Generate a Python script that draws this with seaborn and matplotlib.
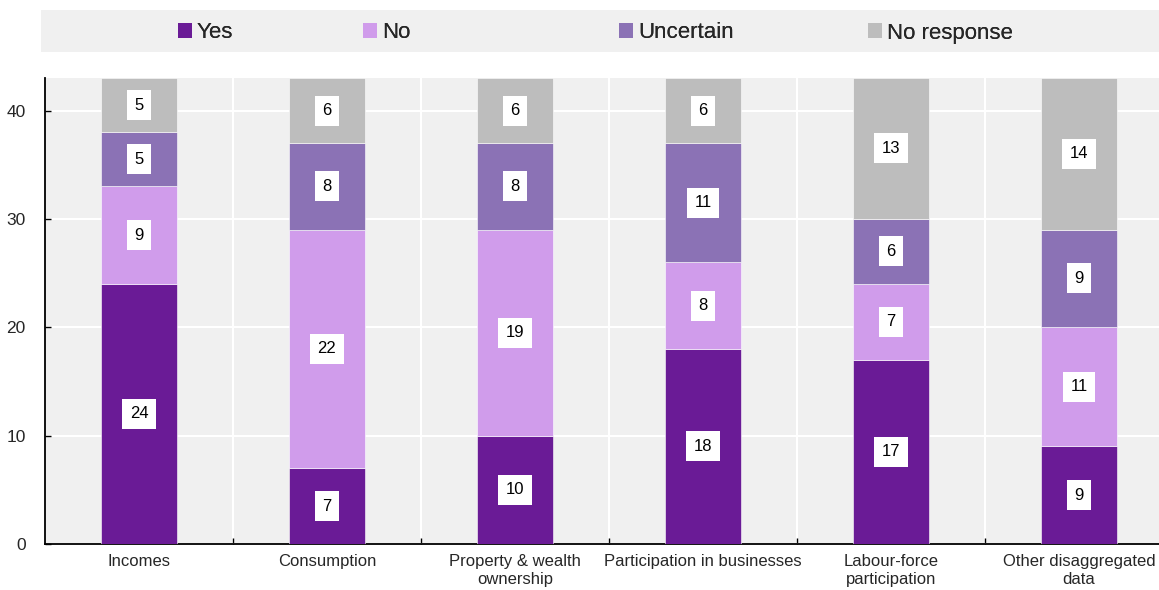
import numpy as np
import pandas as pd
import matplotlib
matplotlib.use("Agg")
import matplotlib.pyplot as plt
import seaborn as sns
from matplotlib.patches import Rectangle, Patch

categories = ["Incomes", "Consumption", "Property & wealth\nownership",
              "Participation in businesses", "Labour-force\nparticipation",
              "Other disaggregated\ndata"]
series_names = ["Yes", "No", "Uncertain", "No response"]
yes = [24, 7, 10, 18, 17, 9]
no = [9, 22, 19, 8, 7, 11]
uncertain = [5, 8, 8, 11, 6, 9]
no_response = [5, 6, 6, 6, 13, 14]
colors = ["#6A1B96", "#D09CEB", "#8B72B5", "#BDBDBD"]
legend_x = [178, 363, 619, 868]  # left edge of each legend entry, px

sns.set_theme(style="white")
plt.rcParams["font.family"] = ["Liberation Sans", "DejaVu Sans"]

fig = plt.figure(figsize=(11.59, 5.9), dpi=100)
ax = fig.add_axes([45 / 1159, 46 / 590, 1 - 45 / 1159 + 0.012, (544 - 78) / 590])
ax.set_facecolor("#F0F0F0")

df = pd.DataFrame({"category": categories, "Yes": yes, "No": no,
                   "Uncertain": uncertain, "No response": no_response})

bottom = np.zeros(len(categories))
for name, col in zip(series_names, colors):
    vals = df[name].to_numpy(dtype=float)
    sns.barplot(x=df["category"], y=vals, bottom=bottom, color=col, width=0.4,
                saturation=1, edgecolor="white", linewidth=0.4, ax=ax, zorder=3)
    for i, (b, v) in enumerate(zip(bottom, vals)):
        ax.text(i, b + v / 2, f"{int(v)}", ha="center", va="center", fontsize=12,
                color="black", zorder=5,
                bbox=dict(boxstyle="square,pad=0.45", fc="white", ec="none"))
    bottom = bottom + vals

ax.set_ylim(0, 43)
ax.set_xlim(-0.5, 5.5)
ax.set_yticks([0, 10, 20, 30, 40])
ax.set_xticks(np.arange(0.5, 5.5, 1), minor=True)
ax.grid(False)
ax.yaxis.grid(True, color="white", lw=1.5, zorder=0)
ax.xaxis.grid(True, which="minor", color="white", lw=1.5, zorder=0)
ax.set_axisbelow(True)
ax.set_xlabel("")
ax.set_ylabel("")
for s in ["top", "right"]:
    ax.spines[s].set_visible(False)
for s in ["left", "bottom"]:
    ax.spines[s].set_color("black")
    ax.spines[s].set_linewidth(1.3)
ax.tick_params(axis="y", direction="in", length=4, width=1, color="black",
               labelsize=12.5, left=True, pad=14)
ax.tick_params(axis="x", which="major", length=0, labelsize=12, pad=7)
ax.tick_params(axis="x", which="minor", direction="in", length=4, width=1,
               color="black", bottom=True)
for lbl in ax.get_xticklabels():
    lbl.set_linespacing(1.3)

# legend band
fig.patches.append(Rectangle((41 / 1159, 1 - 52 / 590), 1 - 41 / 1159, 42 / 590,
                             transform=fig.transFigure, fc="#F0F0F0", ec="none", zorder=0))
for name, col, lx in zip(series_names, colors, legend_x):
    leg = fig.legend([Patch(facecolor=col, edgecolor="none")], [name], loc="center left",
                     bbox_to_anchor=(lx / 1159, 1 - 33 / 590), frameon=False, fontsize=16,
                     handlelength=0.65, handleheight=0.65, handletextpad=0.2,
                     borderpad=0, borderaxespad=0)
    fig.add_artist(leg)

fig.savefig("out.png", dpi=100)
